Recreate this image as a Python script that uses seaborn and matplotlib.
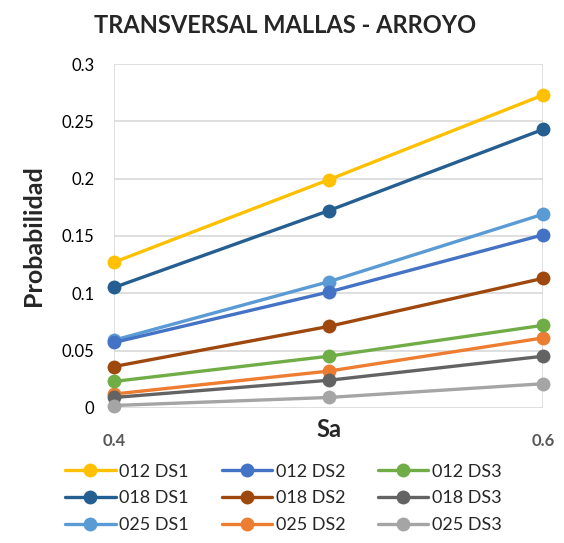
import numpy as np
import pandas as pd
import matplotlib
matplotlib.use("Agg")
import matplotlib.pyplot as plt
import seaborn as sns

# Sa values and probabilities
sa = [0.4, 0.5, 0.6]
series_names = ["012 DS1", "018 DS1", "025 DS1",
                "012 DS2", "018 DS2", "025 DS2",
                "012 DS3", "018 DS3", "025 DS3"]
p_012_ds1 = [0.127, 0.199, 0.273]
p_018_ds1 = [0.105, 0.172, 0.243]
p_025_ds1 = [0.059, 0.110, 0.169]
p_012_ds2 = [0.057, 0.101, 0.151]
p_018_ds2 = [0.036, 0.071, 0.113]
p_025_ds2 = [0.012, 0.032, 0.061]
p_012_ds3 = [0.023, 0.045, 0.072]
p_018_ds3 = [0.009, 0.024, 0.045]
p_025_ds3 = [0.002, 0.009, 0.021]
values = [p_012_ds1, p_018_ds1, p_025_ds1,
          p_012_ds2, p_018_ds2, p_025_ds2,
          p_012_ds3, p_018_ds3, p_025_ds3]
colors = ["#FFC000", "#255E91", "#5B9BD5",
          "#4472C4", "#9E480E", "#ED7D31",
          "#70AD47", "#636363", "#A5A5A5"]

df = pd.DataFrame({
    "Sa": np.tile(sa, len(series_names)),
    "Probabilidad": np.concatenate(values),
    "serie": np.repeat(series_names, len(sa)),
})

sns.set_style("white")
plt.rcParams["font.family"] = ["Lato", "DejaVu Sans"]

fig = plt.figure(figsize=(5.64, 5.43), dpi=100)
ax = fig.add_axes([0.202, 0.249, 0.761, 0.633])

sns.lineplot(data=df, x="Sa", y="Probabilidad", hue="serie",
             hue_order=series_names, palette=dict(zip(series_names, colors)),
             marker="o", markersize=10, markeredgewidth=0, linewidth=2.4,
             ax=ax, zorder=3, clip_on=False)

ax.set_xlim(0.4, 0.6)
ax.set_ylim(0, 0.3)
ax.set_xticks([0.4, 0.6])
ax.set_xticklabels(["0.4", "0.6"], fontsize=12, fontweight="bold", color="#595959")
ax.set_yticks([0, 0.05, 0.1, 0.15, 0.2, 0.25, 0.3])
ax.set_yticklabels(["0", "0.05", "0.1", "0.15", "0.2", "0.25", "0.3"], fontsize=12, color="black")
ax.tick_params(length=0, pad=14)
ax.tick_params(axis="x", pad=18)
ax.grid(True, color="#D9D9D9", linewidth=1.2, zorder=0)
for s in ax.spines.values():
    s.set_visible(False)

ax.set_xlabel("Sa", fontsize=17, fontweight="bold", labelpad=-22)
ax.set_ylabel("Probabilidad", fontsize=18, fontweight="bold", labelpad=12)
fig.suptitle("TRANSVERSAL MALLAS - ARROYO", x=0.505, y=0.975, fontsize=17, fontweight="bold")

handles, labels = ax.get_legend_handles_labels()
ax.legend(handles, labels, ncol=3, loc="upper center", bbox_to_anchor=(0.395, -0.115),
          frameon=False, fontsize=13, handlelength=2.8, handletextpad=0.2,
          columnspacing=1.8, labelspacing=0.6)

fig.savefig("out.png", dpi=100)
